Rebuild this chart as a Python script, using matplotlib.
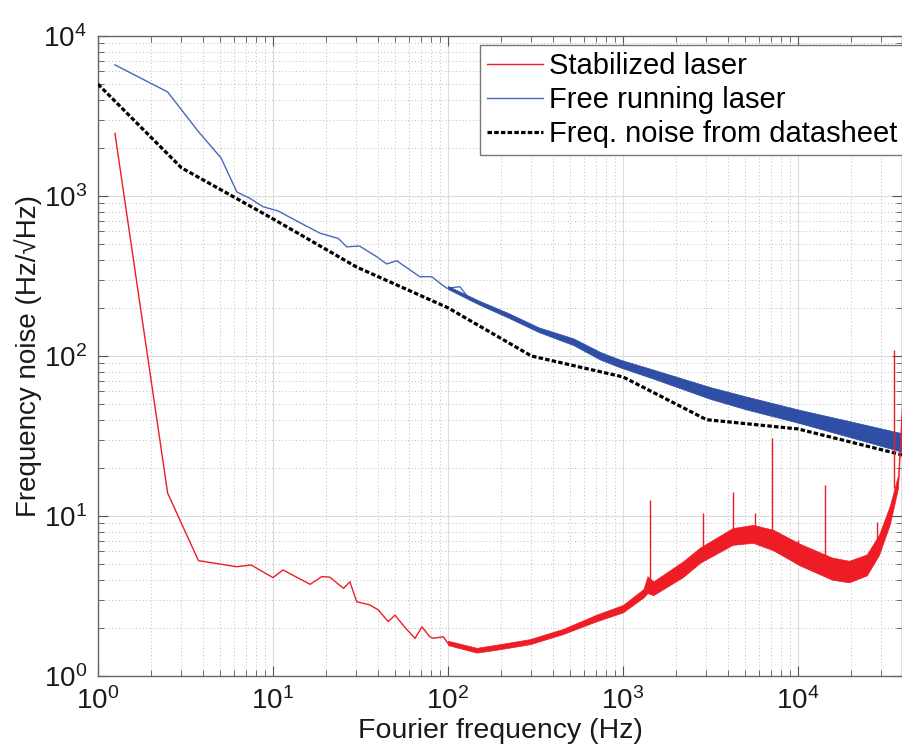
import numpy as np
import matplotlib
matplotlib.use('Agg')
import matplotlib.pyplot as plt

plt.rcParams['font.family'] = ['Liberation Sans', 'DejaVu Sans']
plt.rcParams['mathtext.fontset'] = 'custom'
plt.rcParams['mathtext.rm'] = 'Liberation Sans'
plt.rcParams['mathtext.default'] = 'regular'

# datasheet curve
ds_f = [1, 3, 10, 30, 100, 300, 1000, 3000, 10000, 40000]
ds_v = [5000, 1500, 720, 360, 200, 100, 74, 40, 35, 24]

# free running laser, low frequency part (thin trace)
fr_f = [1.25, 2.5, 3.75, 5.05, 6.22, 7.38, 8.77, 10.7, 14.3, 18.6, 23.6, 26.4, 31.2,
        39.2, 44.6, 50.9, 69, 80.7, 90, 98.5, 117, 134]
fr_v = [6600, 4470, 2524, 1728, 1059, 967, 857, 806, 680, 585, 543, 481, 487,
        417, 376, 394, 313, 313, 285, 265, 271, 224]
# free running laser, noisy band (envelope)
frb_f = [100, 150, 220, 330, 520, 740, 960, 1500, 3140, 5000, 10270, 20000, 39300]
frb_hi = [274, 222, 186, 151, 129, 106, 95, 82, 64, 56, 46, 39, 32.9]
frb_lo = [262, 210, 174, 141, 117, 95, 85, 72, 54, 46.5, 38, 31, 25.2]

# stabilized laser, low frequency part
st_f = [1.25, 2.5, 3.75, 6.2, 7.5, 10, 11.4, 16.3, 19, 21.1, 25.3, 27.5, 30.1, 35.8,
        39.9, 45.5, 49.8, 57, 64.8, 71, 78.6, 82.3, 94, 100]
st_v = [2460, 13.9, 5.26, 4.82, 4.94, 4.12, 4.6, 3.74, 4.18, 4.15, 3.53, 3.88, 2.91, 2.78,
        2.59, 2.19, 2.4, 2.0, 1.72, 2.03, 1.76, 1.72, 1.76, 1.6]
# stabilized laser, noisy band
stb_f = [100, 146, 190, 294, 455, 707, 1000, 1310, 1380, 1490, 2200, 2755, 4230, 5530,
         7220, 10270, 15650, 19600, 24700, 29000, 33500, 37300, 39300]
stb_hi = [1.66, 1.50, 1.57, 1.70, 1.97, 2.42, 2.78, 3.5, 4.2, 3.9, 5.2, 6.35, 8.4, 8.8,
          8.2, 6.7, 5.5, 5.25, 5.75, 7.6, 11.6, 18, 52]
stb_lo = [1.56, 1.40, 1.46, 1.58, 1.83, 2.20, 2.50, 3.1, 3.3, 3.2, 4.15, 5.1, 6.6, 6.8,
          6.1, 4.9, 4.0, 3.85, 4.25, 5.7, 8.9, 15, 44]
# spikes on the stabilized trace
sp_f = [1430, 2850, 4230, 5680, 7130, 10040, 14270, 28400, 35500]
sp_base = [3.5, 5.5, 7.5, 8.5, 8.0, 6.5, 5.0, 6.5, 15]
sp_top = [12.6, 10.4, 14.2, 10.4, 30.6, 7.1, 15.6, 9.2, 109]

red = '#ee1c24'
blue = '#2e4fa5'

fig = plt.figure(figsize=(9.02, 7.52), dpi=100)
ax = fig.add_axes([98/902, 76/752, 804/902, 640/752])

ax.plot(fr_f, fr_v, color='#4a68bb', lw=1.0, zorder=2, label='Free running laser')
ax.fill_between(frb_f, frb_lo, frb_hi, color=blue, lw=0.5, edgecolor=blue, zorder=2)
ax.plot(ds_f, ds_v, color='black', lw=2.3, ls=(0, (1.4, 0.7)), zorder=3,
        label='Freq. noise from datasheet')
ax.plot(st_f, st_v, color=red, lw=1.0, zorder=4, label='Stabilized laser')
ax.fill_between(stb_f, stb_lo, stb_hi, color=red, lw=0.5, edgecolor=red, zorder=4)
ax.vlines(sp_f, sp_base, sp_top, color=red, lw=1.0, zorder=4)

ax.set_xscale('log')
ax.set_yscale('log')
ax.set_xlim(1, 10**(804/175))
ax.set_ylim(1, 1e4)

ax.grid(which='major', color='#dcdcdc', lw=0.8, ls='-')
ax.grid(which='minor', color='#bdbdbd', lw=0.7, ls=(0, (1, 2.5)))
ax.set_axisbelow(True)
ax.tick_params(which='both', direction='in', top=True, right=True, labelsize=20,
               colors='#555555', labelcolor='#1a1a1a')
ax.tick_params(which='major', length=7, pad=8)
ax.tick_params(which='minor', length=4)
for s in ax.spines.values():
    s.set_color('#666666')
    s.set_linewidth(1.0)

ax.set_xlabel('Fourier frequency (Hz)', fontsize=20.5, color='#1a1a1a', labelpad=2)
ax.set_ylabel('Frequency noise (Hz/\u221aHz)', fontsize=20, color='#1a1a1a', labelpad=1)

h, l = ax.get_legend_handles_labels()
order = [2, 0, 1]
leg = ax.legend([h[i] for i in order], [l[i] for i in order], loc='upper left',
                bbox_to_anchor=(480/902, 707/752), bbox_transform=fig.transFigure,
                borderaxespad=0, borderpad=0.25, handlelength=1.9, handletextpad=0.2,
                labelspacing=0.2, fancybox=False, edgecolor='#777777', framealpha=1,
                fontsize=21)
leg.get_frame().set_linewidth(1.0)

fig.savefig('out.png', dpi=100)
